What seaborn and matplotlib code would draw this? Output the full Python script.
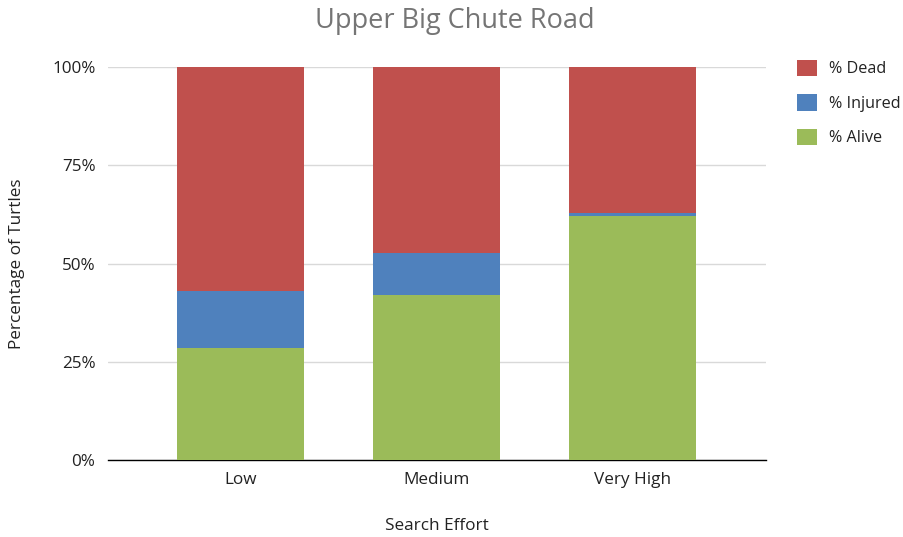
import numpy as np
import pandas as pd
import seaborn as sns
import matplotlib.pyplot as plt
from matplotlib.patches import Patch
from matplotlib.ticker import FuncFormatter

# Outcome shares (%) by search effort
efforts = ["Low", "Medium", "Very High"]
pct_alive = [28.6, 42.1, 62.2]
pct_injured = [14.3, 10.5, 0.6]
pct_dead = [57.1, 47.4, 37.2]

series_names = ["% Dead", "% Injured", "% Alive"]
colors = {"% Dead": "#C0504D", "% Injured": "#4F81BD", "% Alive": "#9BBB59"}

sns.set_theme(style="white")
plt.rcParams["font.family"] = ["Open Sans", "DejaVu Sans"]

df = pd.DataFrame({
    "effort": efforts,
    "alive": pct_alive,
    "injured": pct_injured,
    "dead": pct_dead,
})
# cumulative tops for stacking
df["top_alive"] = df["alive"]
df["top_injured"] = df["alive"] + df["injured"]
df["top_dead"] = df["alive"] + df["injured"] + df["dead"]

fig = plt.figure(figsize=(9.04, 5.37), dpi=100)
ax = fig.add_axes([108 / 904, 1 - 460 / 537, (766 - 108) / 904, (460 - 67) / 537])

for col, name in [("top_dead", "% Dead"), ("top_injured", "% Injured"), ("top_alive", "% Alive")]:
    sns.barplot(data=df, x="effort", y=col, color=colors[name], width=0.65,
                saturation=1, ax=ax, zorder=3, linewidth=0)

ax.set_ylim(0, 100)
ax.set_xlim(-0.676, 2.68)
ax.set_yticks([0, 25, 50, 75, 100])
ax.yaxis.set_major_formatter(FuncFormatter(lambda v, p: f"{int(v)}%"))
ax.grid(axis="y", color="#D9D9D9", linewidth=1, zorder=0)
ax.set_axisbelow(True)
for s in ["left", "right", "top"]:
    ax.spines[s].set_visible(False)
ax.spines["bottom"].set_color("#000000")
ax.spines["bottom"].set_linewidth(1)
ax.tick_params(axis="both", length=0, labelsize=12.3, colors="#222222")
ax.tick_params(axis="x", pad=9)
ax.tick_params(axis="y", pad=9)

ax.set_xlabel("Search Effort", fontsize=12.3, color="#222222")
ax.xaxis.set_label_coords(0.5, (460 - 526) / 393)
ax.set_ylabel("Percentage of Turtles", fontsize=12.3, color="#222222")
ax.yaxis.set_label_coords((17 - 108) / 658, 0.5)
ax.xaxis.label.set_va("center")
ax.yaxis.label.set_va("center")

fig.text(455 / 904, 1 - 21 / 537, "Upper Big Chute Road", ha="center", va="center",
         fontsize=19.5, color="#757575")

handles = [Patch(facecolor=colors[n], edgecolor="none") for n in series_names]
fig.legend(handles, series_names, loc="upper left", bbox_to_anchor=(783 / 904, 1 - 45 / 537),
           frameon=False, fontsize=11.6, handlelength=1.2, handleheight=1.2,
           labelspacing=1.05, handletextpad=0.75, labelcolor="#222222")

fig.savefig("out.png", dpi=100)
